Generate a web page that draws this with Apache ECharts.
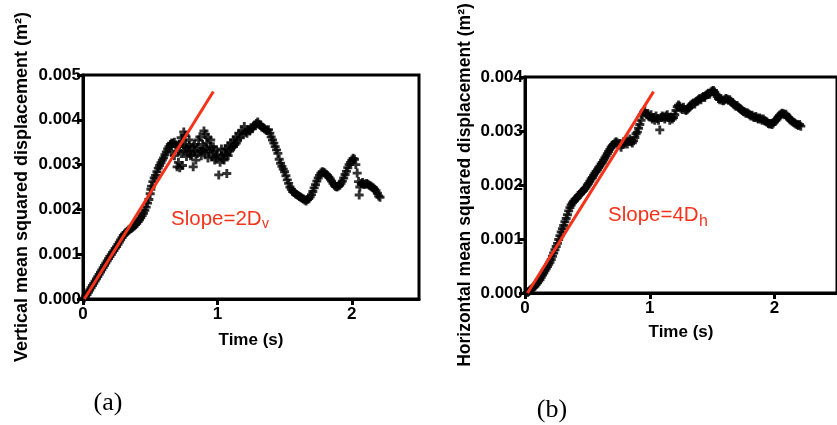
<!DOCTYPE html>
<html lang="en">
<head>
    <meta charset="UTF-8">
    <title>Mean squared displacement</title>
    <script src="https://cdn.jsdelivr.net/npm/echarts@6.0.0/dist/echarts.min.js"></script>
    <style>
        html, body { margin: 0; padding: 0; background: #fff; }
        #box { width: 837px; height: 425px; }
    </style>
</head>
<body>
<div id="box"></div>
<script>
    // (a) vertical MSD, values in 1e-3 m^2
    var timeV = [
        0.01, 0.02, 0.03, 0.04, 0.05, 0.06, 0.07, 0.08, 0.09, 0.10,
        0.11, 0.12, 0.13, 0.14, 0.15, 0.16, 0.17, 0.18, 0.19, 0.20,
        0.21, 0.22, 0.23, 0.24, 0.25, 0.26, 0.27, 0.28, 0.29, 0.30,
        0.31, 0.32, 0.33, 0.34, 0.35, 0.36, 0.37, 0.38, 0.39, 0.40,
        0.41, 0.42, 0.43, 0.44, 0.45, 0.46, 0.47, 0.48, 0.49, 0.50,
        0.505, 0.51, 0.52, 0.53, 0.54, 0.55, 0.56, 0.57, 0.58, 0.59,
        0.60, 0.61, 0.62, 0.63, 0.64, 0.65, 0.66, 0.67, 0.68, 0.69,
        0.70, 0.70, 0.71, 0.72, 0.72, 0.73, 0.74, 0.75, 0.75, 0.76,
        0.77, 0.78, 0.79, 0.80, 0.81, 0.82, 0.82, 0.83, 0.84, 0.85,
        0.86, 0.87, 0.88, 0.89, 0.90, 0.90, 0.91, 0.92, 0.93, 0.94,
        0.95, 0.96, 0.97, 0.98, 0.99, 1.00, 1.01, 1.02, 1.03, 1.04,
        1.05, 1.06, 1.07, 1.07, 1.08, 1.09, 1.10, 1.11, 1.12, 1.13,
        1.14, 1.15, 1.16, 1.17, 1.18, 1.19, 1.20, 1.21, 1.22, 1.23,
        1.24, 1.25, 1.26, 1.27, 1.28, 1.29, 1.30, 1.31, 1.32, 1.33,
        1.34, 1.35, 1.36, 1.37, 1.38, 1.39, 1.40, 1.41, 1.42, 1.43,
        1.44, 1.45, 1.46, 1.47, 1.48, 1.49, 1.50, 1.51, 1.52, 1.53,
        1.54, 1.55, 1.56, 1.57, 1.58, 1.59, 1.60, 1.61, 1.62, 1.63,
        1.64, 1.65, 1.66, 1.67, 1.68, 1.69, 1.70, 1.71, 1.72, 1.73,
        1.74, 1.75, 1.76, 1.77, 1.78, 1.79, 1.80, 1.81, 1.82, 1.83,
        1.84, 1.85, 1.86, 1.87, 1.88, 1.89, 1.90, 1.91, 1.92, 1.93,
        1.94, 1.95, 1.96, 1.97, 1.98, 1.99, 2.00, 2.01, 2.02, 2.03,
        2.04, 2.05, 2.055, 2.06, 2.07, 2.08, 2.09, 2.10, 2.11, 2.12,
        2.13, 2.14, 2.15, 2.16, 2.17, 2.18, 2.19, 2.20, 2.21,
        0.66, 0.68, 0.71, 0.73, 0.74, 0.76, 0.77, 0.79, 0.80, 0.83,
        0.85, 0.87, 0.88, 0.91, 0.92, 0.93, 0.95, 0.97, 0.99, 1.03,
        1.05, 1.08, 1.10, 1.12, 1.14
    ];
    var msdV = [
        0.02, 0.06, 0.10, 0.15, 0.20, 0.25, 0.30, 0.35, 0.40, 0.45,
        0.50, 0.55, 0.60, 0.65, 0.70, 0.75, 0.80, 0.85, 0.90, 0.95,
        0.99, 1.04, 1.08, 1.13, 1.17, 1.22, 1.27, 1.32, 1.37, 1.42,
        1.45, 1.48, 1.51, 1.54, 1.56, 1.58, 1.60, 1.63, 1.66, 1.69,
        1.73, 1.77, 1.81, 1.86, 1.91, 1.98, 2.05, 2.14, 2.22, 2.35,
        2.45, 2.52, 2.62, 2.70, 2.76, 2.84, 2.92, 2.98, 3.04, 3.10,
        3.15, 3.22, 3.28, 3.35, 3.40, 3.45, 3.48, 3.47, 3.50, 3.44,
        3.40, 2.95, 3.30, 2.93, 3.45, 3.25, 3.52, 3.73, 3.30, 3.40,
        3.18, 3.30, 3.42, 3.30, 3.22, 2.95, 3.40, 3.30, 3.10, 3.38,
        3.55, 3.30, 3.20, 3.45, 3.75, 3.33, 3.25, 3.48, 3.60, 3.30,
        3.40, 3.18, 3.28, 3.10, 3.15, 3.22, 2.77, 3.05, 3.20, 3.12,
        3.25, 3.35, 2.80, 3.22, 3.42, 3.30, 3.48, 3.40, 3.55, 3.45,
        3.62, 3.55, 3.70, 3.60, 3.75, 3.68, 3.85, 3.72, 3.70, 3.78,
        3.75, 3.82, 3.80, 3.86, 3.88, 3.92, 3.95, 3.90, 3.88, 3.84,
        3.82, 3.80, 3.78, 3.76, 3.78, 3.70, 3.62, 3.55, 3.48, 3.40,
        3.33, 3.25, 3.12, 3.03, 2.96, 2.90, 2.84, 2.75, 2.66, 2.58,
        2.50, 2.45, 2.40, 2.38, 2.35, 2.33, 2.31, 2.29, 2.27, 2.25,
        2.23, 2.21, 2.19, 2.22, 2.24, 2.28, 2.33, 2.40, 2.48, 2.55,
        2.63, 2.70, 2.76, 2.81, 2.84, 2.83, 2.81, 2.78, 2.75, 2.72,
        2.68, 2.63, 2.58, 2.54, 2.51, 2.50, 2.52, 2.54, 2.58, 2.63,
        2.70, 2.78, 2.85, 2.93, 3.00, 3.05, 3.10, 3.14, 3.12, 3.00,
        2.81, 2.62, 2.32, 2.50, 2.58, 2.60, 2.56, 2.56, 2.58, 2.56,
        2.54, 2.52, 2.50, 2.48, 2.45, 2.42, 2.36, 2.30, 2.27,
        3.30, 3.20, 3.05, 3.60, 2.98, 3.65, 3.38, 3.55, 3.20, 3.45,
        3.25, 3.62, 3.30, 3.68, 3.35, 3.15, 3.55, 3.40, 3.32, 3.35,
        3.10, 3.20, 3.35, 3.40, 3.48
    ];
    // fitted line for (a)
    var fitTimeV = [0.01, 0.97];
    var fitMsdV = [0, 4.63];

    // (b) horizontal MSD, values in 1e-3 m^2
    var timeH = [
        0.02, 0.03, 0.04, 0.05, 0.06, 0.07, 0.08, 0.09, 0.10, 0.11,
        0.12, 0.13, 0.14, 0.15, 0.16, 0.17, 0.18, 0.19, 0.20, 0.21,
        0.22, 0.23, 0.24, 0.25, 0.26, 0.27, 0.28, 0.29, 0.30, 0.31,
        0.32, 0.33, 0.34, 0.35, 0.36, 0.37, 0.38, 0.39, 0.40, 0.41,
        0.42, 0.43, 0.44, 0.45, 0.46, 0.47, 0.48, 0.49, 0.50, 0.51,
        0.52, 0.53, 0.54, 0.55, 0.56, 0.57, 0.58, 0.59, 0.60, 0.61,
        0.62, 0.63, 0.64, 0.65, 0.66, 0.67, 0.68, 0.69, 0.70, 0.71,
        0.72, 0.73, 0.74, 0.75, 0.76, 0.77, 0.78, 0.79, 0.80, 0.81,
        0.82, 0.83, 0.84, 0.85, 0.86, 0.87, 0.88, 0.89, 0.90, 0.91,
        0.92, 0.93, 0.94, 0.95, 0.96, 0.97, 0.98, 0.99, 1.00, 1.01,
        1.02, 1.03, 1.04, 1.05, 1.06, 1.07, 1.08, 1.09, 1.10, 1.11,
        1.12, 1.13, 1.14, 1.15, 1.16, 1.17, 1.18, 1.19, 1.20, 1.21,
        1.22, 1.23, 1.24, 1.25, 1.26, 1.27, 1.28, 1.29, 1.30, 1.31,
        1.32, 1.33, 1.34, 1.35, 1.36, 1.37, 1.38, 1.39, 1.40, 1.41,
        1.42, 1.43, 1.44, 1.45, 1.46, 1.47, 1.48, 1.49, 1.50, 1.51,
        1.52, 1.53, 1.54, 1.55, 1.56, 1.57, 1.58, 1.59, 1.60, 1.61,
        1.62, 1.63, 1.64, 1.65, 1.66, 1.67, 1.68, 1.69, 1.70, 1.71,
        1.72, 1.73, 1.74, 1.75, 1.76, 1.77, 1.78, 1.79, 1.80, 1.81,
        1.82, 1.83, 1.84, 1.85, 1.86, 1.87, 1.88, 1.89, 1.90, 1.91,
        1.92, 1.93, 1.94, 1.95, 1.96, 1.97, 1.98, 1.99, 2.00, 2.01,
        2.02, 2.03, 2.04, 2.05, 2.06, 2.07, 2.08, 2.09, 2.10, 2.11,
        2.12, 2.13, 2.14, 2.15, 2.16, 2.17, 2.18, 2.19, 2.20, 2.21
    ];
    var msdH = [
        0.01, 0.03, 0.05, 0.07, 0.09, 0.11, 0.13, 0.16, 0.19, 0.22,
        0.25, 0.29, 0.33, 0.37, 0.41, 0.45, 0.49, 0.53, 0.57, 0.62,
        0.68, 0.74, 0.80, 0.86, 0.92, 0.99, 1.06, 1.13, 1.19, 1.25,
        1.32, 1.38, 1.45, 1.52, 1.58, 1.63, 1.67, 1.70, 1.73, 1.75,
        1.77, 1.80, 1.83, 1.86, 1.88, 1.90, 1.93, 1.96, 2.00, 2.03,
        2.07, 2.11, 2.14, 2.18, 2.22, 2.25, 2.28, 2.32, 2.35, 2.39,
        2.42, 2.46, 2.50, 2.54, 2.58, 2.62, 2.66, 2.70, 2.73, 2.75,
        2.78, 2.80, 2.78, 2.74, 2.77, 2.70, 2.75, 2.80, 2.78, 2.83,
        2.76, 2.81, 2.85, 2.80, 2.78, 2.82, 2.88, 2.95, 2.98, 3.05,
        3.12, 3.20, 3.30, 3.35, 3.38, 3.32, 3.30, 3.28, 3.26, 3.30,
        3.22, 3.25, 3.20, 3.28, 3.23, 3.20, 3.02, 3.25, 3.28, 3.26,
        3.22, 3.28, 3.30, 3.25, 3.20, 3.26, 3.22, 3.25, 3.30, 3.38,
        3.45, 3.48, 3.46, 3.42, 3.40, 3.44, 3.40, 3.38, 3.40, 3.42,
        3.45, 3.48, 3.50, 3.52, 3.50, 3.54, 3.56, 3.58, 3.60, 3.58,
        3.62, 3.64, 3.62, 3.66, 3.68, 3.70, 3.68, 3.72, 3.74, 3.75,
        3.72, 3.68, 3.64, 3.60, 3.58, 3.60, 3.57, 3.56, 3.58, 3.60,
        3.59, 3.57, 3.58, 3.55, 3.53, 3.50, 3.48, 3.46, 3.47, 3.44,
        3.42, 3.40, 3.38, 3.36, 3.35, 3.33, 3.34, 3.32, 3.30, 3.28,
        3.29, 3.26, 3.25, 3.27, 3.24, 3.22, 3.24, 3.22, 3.20, 3.22,
        3.19, 3.18, 3.16, 3.14, 3.13, 3.14, 3.12, 3.15, 3.18, 3.20,
        3.22, 3.26, 3.29, 3.31, 3.33, 3.32, 3.30, 3.31, 3.28, 3.25,
        3.22, 3.20, 3.18, 3.16, 3.15, 3.13, 3.12, 3.10, 3.12, 3.09
    ];
    // fitted line for (b)
    var fitTimeH = [0.02, 1.03];
    var fitMsdH = [0, 3.73];

    var xTicks = [0, 1, 2];

    var RED = '#f5331b';
    var FONT = 'Arial, "Liberation Sans", sans-serif';
    var PLUS = 'path://M3.4,0H6.6V3.4H10V6.6H6.6V10H3.4V6.6H0V3.4H3.4Z';

    function pairs(xs, ys) {
        var out = [];
        for (var i = 0; i < xs.length; i++) {
            out.push([xs[i], ys[i]]);
        }
        return out;
    }

    function xAxisFor(idx) {
        return {
            gridIndex: idx,
            type: 'value',
            min: 0,
            max: 2.5,
            interval: 1,
            name: 'Time (s)',
            nameLocation: 'middle',
            nameGap: idx === 0 ? 33 : 31,
            nameTextStyle: {color: '#000', fontFamily: FONT, fontWeight: 'bold', fontSize: 17},
            axisLine: {show: true, onZero: false, lineStyle: {color: '#000', width: 3}},
            axisTick: {show: true, length: 6, lineStyle: {color: '#000', width: 3}},
            axisLabel: {
                color: '#000', fontFamily: FONT, fontWeight: 'bold', fontSize: 17, margin: 7,
                showMaxLabel: false,
                formatter: function (v) {
                    return xTicks.indexOf(v) >= 0 ? String(v) : '';
                }
            },
            splitLine: {show: false}
        };
    }

    function yAxisFor(idx, max, title, size, gap) {
        return {
            gridIndex: idx,
            type: 'value',
            min: 0,
            max: max,
            interval: 1,
            name: title,
            nameLocation: 'middle',
            nameRotate: 90,
            nameGap: gap,
            nameTextStyle: {color: '#000', fontFamily: FONT, fontWeight: 'bold', fontSize: size},
            axisLine: {show: true, onZero: false, lineStyle: {color: '#000', width: 3}},
            axisTick: {show: true, length: 6, lineStyle: {color: '#000', width: 3}},
            axisLabel: {
                color: '#000', fontFamily: FONT, fontWeight: 'bold', fontSize: 17, margin: 2,
                formatter: function (v) {
                    return (v / 1000).toFixed(3);
                }
            },
            splitLine: {show: false}
        };
    }

    var myChart = echarts.init(document.getElementById('box'), null, {renderer: 'canvas'});

    var option = {
        animation: false,
        backgroundColor: '#fff',
        grid: [
            {left: 83, top: 75, width: 336, height: 224, show: true, borderColor: '#000', borderWidth: 3},
            {left: 525, top: 77, width: 323, height: 216, show: true, borderColor: '#000', borderWidth: 3}
        ],
        xAxis: [xAxisFor(0), xAxisFor(1)],
        yAxis: [
            yAxisFor(0, 5, 'Vertical mean squared displacement (m²)', 18, 52),
            yAxisFor(1, 4, 'Horizontal mean squared displacement (m²)', 17.5, 51)
        ],
        series: [
            {
                type: 'scatter',
                xAxisIndex: 0,
                yAxisIndex: 0,
                symbol: PLUS,
                symbolSize: 9,
                itemStyle: {color: '#000'},
                data: pairs(timeV, msdV)
            },
            {
                type: 'line',
                xAxisIndex: 0,
                yAxisIndex: 0,
                showSymbol: false,
                z: 5,
                lineStyle: {color: RED, width: 3},
                data: pairs(fitTimeV, fitMsdV)
            },
            {
                type: 'scatter',
                xAxisIndex: 1,
                yAxisIndex: 1,
                symbol: PLUS,
                symbolSize: 9,
                itemStyle: {color: '#000'},
                data: pairs(timeH, msdH)
            },
            {
                type: 'line',
                xAxisIndex: 1,
                yAxisIndex: 1,
                showSymbol: false,
                z: 5,
                lineStyle: {color: RED, width: 3},
                data: pairs(fitTimeH, fitMsdH)
            }
        ],
        graphic: [
            {type: 'text', x: 171, y: 219, z: 10,
                style: {text: 'Slope=2D', fill: RED, fontFamily: FONT, fontSize: 20.5, verticalAlign: 'middle', textVerticalAlign: 'middle'}},
            {type: 'text', x: 262, y: 224, z: 10,
                style: {text: 'v', fill: RED, fontFamily: FONT, fontSize: 14, verticalAlign: 'middle', textVerticalAlign: 'middle'}},
            {type: 'text', x: 608, y: 215, z: 10,
                style: {text: 'Slope=4D', fill: RED, fontFamily: FONT, fontSize: 20.5, verticalAlign: 'middle', textVerticalAlign: 'middle'}},
            {type: 'text', x: 699, y: 222, z: 10,
                style: {text: 'h', fill: RED, fontFamily: FONT, fontSize: 16, verticalAlign: 'middle', textVerticalAlign: 'middle'}},
            {type: 'text', x: 108, y: 403,
                style: {text: '(a)', fill: '#000', fontFamily: '"Liberation Serif", "Times New Roman", serif', fontSize: 26,
                    align: 'center', textAlign: 'center', verticalAlign: 'middle', textVerticalAlign: 'middle'}},
            {type: 'text', x: 552, y: 410,
                style: {text: '(b)', fill: '#000', fontFamily: '"Liberation Serif", "Times New Roman", serif', fontSize: 26,
                    align: 'center', textAlign: 'center', verticalAlign: 'middle', textVerticalAlign: 'middle'}}
        ]
    };

    myChart.setOption(option);
</script>
</body>
</html>
